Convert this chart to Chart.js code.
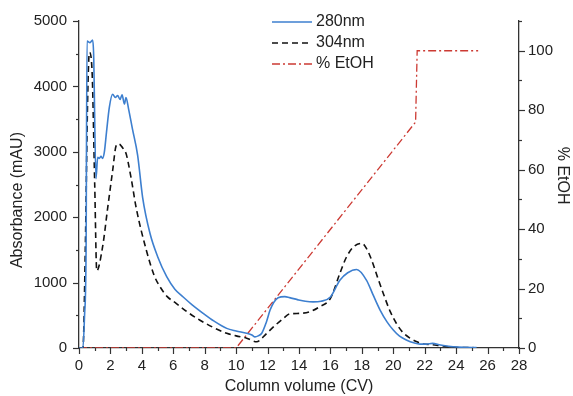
<!DOCTYPE html>
<html>
<head>
<meta charset="utf-8">
<script src="https://cdn.jsdelivr.net/npm/chart.js@4.4.1/dist/chart.umd.min.js"></script>
<style>
  html, body { margin: 0; padding: 0; background: #fff; }
</style>
</head>
<body>
<canvas id="chart" width="573" height="396"></canvas>
<script>
// ---- data ----
const cv280 = [0, 0.25, 0.35, 0.45, 0.51, 0.7, 0.87, 0.93, 1.08, 1.19, 1.29, 1.4, 1.5, 1.61, 1.75, 1.93,
  2.14, 2.31, 2.46, 2.61, 2.74, 2.89, 2.99, 3.16, 3.4, 3.73, 4.05, 4.52, 5.0, 5.58, 6.1, 6.63, 7.2, 7.9,
  8.6, 9.4, 10.0, 10.67, 11.0, 11.2, 11.4, 11.63, 11.9, 12.16, 12.4, 12.67, 13.1, 13.4, 13.9, 14.4, 14.9,
  15.4, 16.0, 16.6, 17.1, 17.67, 18.3, 18.7, 19.16, 19.6, 20.0, 20.4, 20.86, 21.3, 21.7, 22.1, 22.5,
  23.0, 23.8, 24.5, 25.3];
const abs280 = [0, 0, 480, 1490, 4695, 4670, 4710, 4500, 2590, 2915, 2900, 2930, 2900, 2990, 3300, 3680,
  3880, 3830, 3860, 3800, 3870, 3730, 3830, 3650, 3350, 2950, 2300, 1750, 1400, 1090, 900, 780, 660, 530,
  410, 300, 260, 225, 200, 170, 185, 225, 380, 580, 700, 770, 785, 770, 740, 715, 705,
  715, 780, 1035, 1150, 1200, 1035, 820, 580, 400, 275, 180, 120, 80, 60, 60, 70,
  45, 20, 10, 5];

const cv304 = [0, 0.25, 0.4, 0.55, 0.66, 0.83, 1.0, 1.13, 1.5, 1.83, 2.14, 2.36, 2.52, 2.89, 3.0, 3.3,
  3.65, 4.28, 4.8, 5.16, 5.6, 6.2, 6.9, 7.7, 8.5, 9.4, 10.0, 10.67, 11.3, 11.95, 12.5, 13.0, 13.4, 14.07,
  14.7, 15.3, 16.0, 16.6, 17.0, 17.46, 18.0, 18.3, 18.63, 19.0, 19.37, 19.8, 20.2, 20.6, 21.07, 21.5,
  21.9, 22.5, 23.0, 23.5, 24.0, 25.1];
const abs304 = [0, 0, 1500, 3800, 4520, 4240, 2500, 1180, 1545, 2150, 2710, 3090, 3120, 3020, 2970, 2620,
  2130, 1500, 1100, 935, 790, 680, 550, 425, 320, 225, 185, 150, 95, 225, 350, 450, 520, 530,
  555, 630, 760, 1140, 1380, 1545, 1600, 1520, 1340, 1080, 830, 560, 375, 240, 150, 95,
  60, 50, 35, 20, 10, 5];

const cvEtOH = [0, 10, 21.42, 21.52, 25.4];
const pctEtOH = [0, 0, 76, 100, 100];

// ---- axes ----
const xTicks = [0, 2, 4, 6, 8, 10, 12, 14, 16, 18, 20, 22, 24, 26, 28];
const yTicks = [0, 1000, 2000, 3000, 4000, 5000];
const y1Ticks = [0, 20, 40, 60, 80, 100];
const minorSteps = { x: 1, y: 500, y1: 10 };

const INK = '#222';
const FONT = 'Liberation Sans, Arial, sans-serif';

function toPoints(xs, ys) {
  return xs.map((x, i) => ({ x: x, y: ys[i] }));
}

// outward tick marks, major and minor
const tickMarks = {
  id: 'tickMarks',
  afterDraw(chart) {
    const ctx = chart.ctx;
    ctx.save();
    ctx.strokeStyle = '#333';
    ctx.lineWidth = 1.2;
    ['x', 'y', 'y1'].forEach(id => {
      const s = chart.scales[id];
      const step = minorSteps[id];
      for (let v = s.min; v <= s.max + 1e-9; v += step) {
        const major = s.ticks.some(t => Math.abs(t.value - v) < 1e-9);
        const len = major ? 6 : 3;
        const p = Math.round(s.getPixelForValue(v)) + 0.5;
        ctx.beginPath();
        if (id === 'x') { ctx.moveTo(p, s.top); ctx.lineTo(p, s.top + len); }
        else if (id === 'y') { ctx.moveTo(s.right, p); ctx.lineTo(s.right - len, p); }
        else { ctx.moveTo(s.left, p); ctx.lineTo(s.left + len, p); }
        ctx.stroke();
      }
    });
    ctx.restore();
  }
};

// vertical legend inside the plot
const legendBox = {
  id: 'legendBox',
  afterDraw(chart) {
    const ctx = chart.ctx;
    ctx.save();
    ctx.font = '16px ' + FONT;
    ctx.textBaseline = 'middle';
    ctx.fillStyle = INK;
    chart.data.datasets.forEach((ds, i) => {
      const y = 22 + i * 21;
      ctx.strokeStyle = ds.borderColor;
      ctx.lineWidth = ds.borderWidth;
      ctx.setLineDash(ds.borderDash || []);
      ctx.beginPath();
      ctx.moveTo(272, y);
      ctx.lineTo(312, y);
      ctx.stroke();
      ctx.setLineDash([]);
      ctx.fillText(ds.label, 316, y);
    });
    ctx.restore();
  }
};

const plain = v => String(v);

const ctx = document.getElementById('chart').getContext('2d');
new Chart(ctx, {
  type: 'line',
  data: {
    datasets: [
      {
        label: '280nm',
        data: toPoints(cv280, abs280),
        borderColor: '#3d7fcf',
        borderWidth: 1.6,
        yAxisID: 'y',
        cubicInterpolationMode: 'monotone'
      },
      {
        label: '304nm',
        data: toPoints(cv304, abs304),
        borderColor: '#111',
        borderWidth: 1.6,
        borderDash: [6, 4],
        yAxisID: 'y',
        cubicInterpolationMode: 'monotone'
      },
      {
        label: '% EtOH',
        data: toPoints(cvEtOH, pctEtOH),
        borderColor: '#cc3a33',
        borderWidth: 1.3,
        borderDash: [8, 3, 2, 3],
        yAxisID: 'y1',
        tension: 0
      }
    ]
  },
  options: {
    responsive: false,
    animation: false,
    events: [],
    elements: { point: { radius: 0 } },
    layout: { padding: { top: 20, left: 0, right: 0, bottom: 0 } },
    plugins: { legend: { display: false }, tooltip: { enabled: false } },
    scales: {
      x: {
        type: 'linear',
        min: 0, max: 28,
        afterBuildTicks: s => { s.ticks = xTicks.map(v => ({ value: v })); },
        afterFit: s => { s.height = 48; },
        grid: { display: false, drawTicks: false },
        border: { display: true, color: '#333', width: 1.3 },
        ticks: { color: INK, font: { family: FONT, size: 15 }, padding: 9, maxRotation: 0, callback: plain },
        title: { display: true, text: 'Column volume (CV)', color: INK, font: { family: FONT, size: 16 }, padding: { top: 0, bottom: 0 } }
      },
      y: {
        position: 'left',
        min: 0, max: 5000,
        afterBuildTicks: s => { s.ticks = yTicks.map(v => ({ value: v })); },
        afterFit: s => { s.width = 79; },
        grid: { display: false, drawTicks: false },
        border: { display: true, color: '#333', width: 1.3 },
        ticks: { color: INK, font: { family: FONT, size: 15 }, padding: 12, callback: plain },
        title: { display: true, text: 'Absorbance (mAU)       ', color: INK, font: { family: FONT, size: 16 }, padding: { top: 8, bottom: 0 } }
      },
      y1: {
        position: 'right',
        min: 0, max: 110,
        afterBuildTicks: s => { s.ticks = y1Ticks.map(v => ({ value: v })); },
        afterFit: s => { s.width = 54; },
        grid: { display: false, drawTicks: false },
        border: { display: true, color: '#333', width: 1.3 },
        ticks: { color: INK, font: { family: FONT, size: 15 }, padding: 9, callback: plain },
        title: { display: true, text: '% EtOH    ', color: INK, font: { family: FONT, size: 16 }, padding: { top: 1, bottom: 0 } }
      }
    }
  },
  plugins: [tickMarks, legendBox]
});
</script>
</body>
</html>
